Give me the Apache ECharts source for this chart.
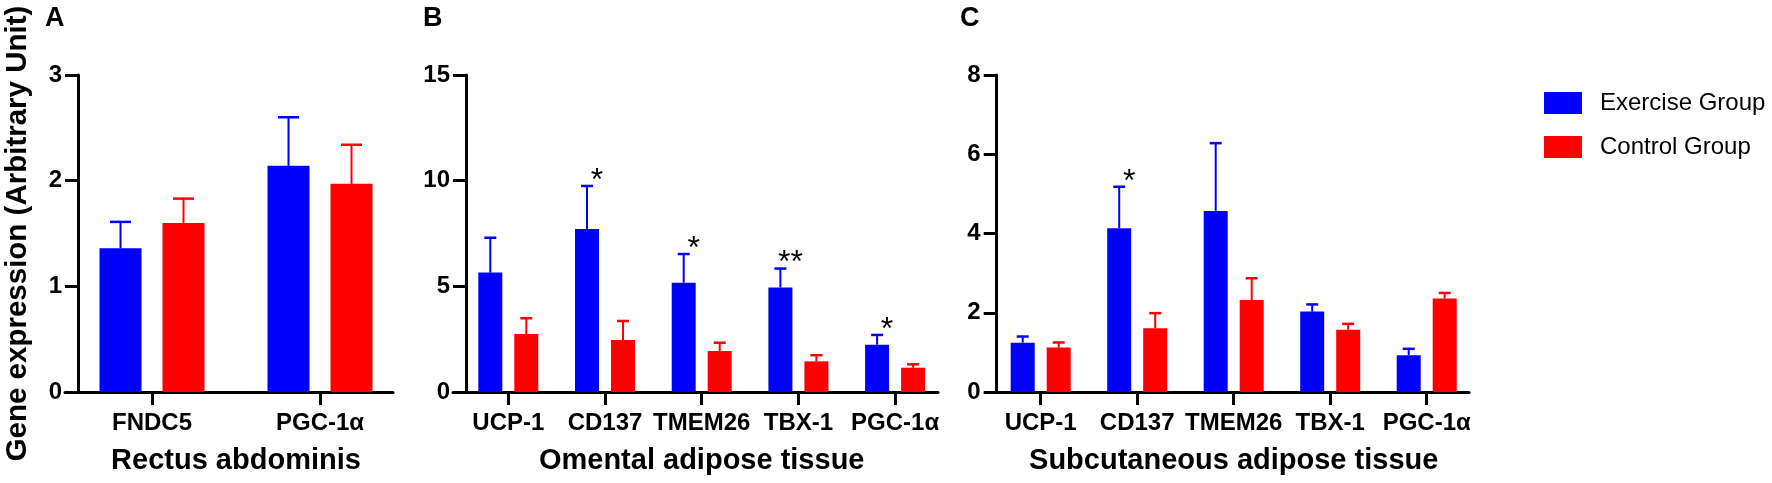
<!DOCTYPE html>
<html>
<head>
<meta charset="utf-8">
<script src="https://cdn.jsdelivr.net/npm/echarts@6/dist/echarts.min.js"></script>
<style>
  html, body { margin: 0; padding: 0; background: #fff; }
  #chart { width: 1772px; height: 483px; }
</style>
</head>
<body>
<div id="chart"></div>
<script>
// panel A - rectus abdominis
var catsA = ['FNDC5', 'PGC-1α'];
var exA = [1.36, 2.14];
var exErrA = [0.25, 0.46];
var ctA = [1.60, 1.97];
var ctErrA = [0.23, 0.37];
var starsA = ['', ''];

// panel B - omental adipose tissue
var catsB = ['UCP-1', 'CD137', 'TMEM26', 'TBX-1', 'PGC-1α'];
var exB = [5.65, 7.71, 5.17, 4.95, 2.24];
var exErrB = [1.65, 2.04, 1.36, 0.89, 0.46];
var ctB = [2.74, 2.46, 1.94, 1.45, 1.15];
var ctErrB = [0.75, 0.90, 0.39, 0.29, 0.16];
var starsB = ['', '*', '*', '**', '*'];

// panel C - subcutaneous adipose tissue
var catsC = ['UCP-1', 'CD137', 'TMEM26', 'TBX-1', 'PGC-1α'];
var exC = [1.245, 4.13, 4.57, 2.03, 0.93];
var exErrC = [0.155, 1.05, 1.71, 0.18, 0.16];
var ctC = [1.12, 1.61, 2.32, 1.57, 2.36];
var ctErrC = [0.13, 0.38, 0.55, 0.15, 0.14];
var starsC = ['', '*', '', '', ''];

var yMax = [3, 15, 8];
var yStep = [1, 5, 2];
var letters = ['A', 'B', 'C'];
var tissues = ['Rectus abdominis', 'Omental adipose tissue', 'Subcutaneous adipose tissue'];

var FONT = '"Liberation Sans", Arial, sans-serif';
var BLUE = '#0000ff', RED = '#ff0000';

// layout of each panel (pixels)
var panels = [
  { cats: catsA, ex: exA, exErr: exErrA, ct: ctA, ctErr: ctErrA, stars: starsA,
    lineStart: 65, lineEnd: 393, yAxisX: 78, firstCenter: 152, spacing: 168, barW: 42, letterX: 45 },
  { cats: catsB, ex: exB, exErr: exErrB, ct: ctB, ctErr: ctErrB, stars: starsB,
    lineStart: 453, lineEnd: 938, yAxisX: 466, firstCenter: 508.3, spacing: 96.7, barW: 24, letterX: 423 },
  { cats: catsC, ex: exC, exErr: exErrC, ct: ctC, ctErr: ctErrC, stars: starsC,
    lineStart: 986, lineEnd: 1469, yAxisX: 996.7, firstCenter: 1040.7, spacing: 96.5, barW: 24, letterX: 960 }
];

var TOP = 75, HEIGHT = 317;

function errorSeries(xi, yi, means, errs, stars, color, shift, cap) {
  return {
    type: 'custom',
    xAxisIndex: xi,
    yAxisIndex: yi,
    z: 5,
    silent: true,
    data: means.map(function (m, i) { return [i, m, m + errs[i]]; }),
    renderItem: function (params, api) {
      var base = api.coord([api.value(0), api.value(1)]);
      var top = api.coord([api.value(0), api.value(2)]);
      var x = base[0] + shift;
      var children = [
        { type: 'line', shape: { x1: x, y1: base[1], x2: x, y2: top[1] }, style: { stroke: color, lineWidth: 2 } },
        { type: 'line', shape: { x1: x - cap / 2, y1: top[1], x2: x + cap / 2, y2: top[1] }, style: { stroke: color, lineWidth: 2.5 } }
      ];
      var s = stars ? stars[params.dataIndex] : '';
      if (s) {
        children.push({
          type: 'text',
          style: { text: s, x: x + 10, y: top[1] - 5, align: 'center', verticalAlign: 'middle',
                   font: '32px ' + FONT, fill: '#000' }
        });
      }
      return { type: 'group', children: children };
    }
  };
}

var grid = [], xAxis = [], yAxis = [], series = [], title = [];

panels.forEach(function (p, k) {
  var n = p.cats.length;
  var bi = 2 * k, fi = 2 * k + 1;
  // grid for bars (category bands placed like the original)
  grid.push({ left: p.firstCenter - p.spacing / 2, width: n * p.spacing, top: TOP, height: HEIGHT,
              containLabel: false, outerBoundsMode: 'none' });
  // grid for the axis frame
  grid.push({ left: p.lineStart, width: p.lineEnd - p.lineStart, top: TOP, height: HEIGHT,
              containLabel: false, outerBoundsMode: 'none' });

  xAxis.push({
    type: 'category', gridIndex: bi, data: p.cats,
    axisLine: { show: false },
    axisTick: { show: true, alignWithLabel: true, length: 13, interval: 0, lineStyle: { color: '#000', width: 3 } },
    axisLabel: { interval: 0, margin: 19, color: '#000', fontSize: 24, fontWeight: 'bold', fontFamily: FONT },
    name: tissues[k], nameLocation: 'middle', nameGap: 54,
    nameTextStyle: { color: '#000', fontSize: 29, fontWeight: 'bold', fontFamily: FONT }
  });
  xAxis.push({
    type: 'value', gridIndex: fi, min: 0, max: 1,
    axisLine: { show: true, onZero: false, lineStyle: { color: '#000', width: 3 } },
    axisTick: { show: false }, axisLabel: { show: false }, splitLine: { show: false }
  });

  yAxis.push({ type: 'value', gridIndex: bi, min: 0, max: yMax[k], interval: yStep[k], show: false });
  yAxis.push({
    type: 'value', gridIndex: fi, min: 0, max: yMax[k], interval: yStep[k],
    offset: -(p.yAxisX - p.lineStart),
    axisLine: { show: true, onZero: false, lineStyle: { color: '#000', width: 3 } },
    axisTick: { show: true, length: 13, lineStyle: { color: '#000', width: 3 } },
    axisLabel: { margin: 16, color: '#000', fontSize: 24, fontWeight: 'bold', fontFamily: FONT },
    splitLine: { show: false },
    name: k === 0 ? 'Gene expression (Arbitrary Unit)' : '',
    nameLocation: 'middle', nameGap: 45,
    nameTextStyle: { color: '#000', fontSize: 29.5, fontWeight: 'bold', fontFamily: FONT }
  });

  series.push({
    name: 'Exercise Group', type: 'bar', xAxisIndex: bi, yAxisIndex: bi,
    data: p.ex, barWidth: p.barW, barGap: '50%', itemStyle: { color: BLUE }
  });
  series.push({
    name: 'Control Group', type: 'bar', xAxisIndex: bi, yAxisIndex: bi,
    data: p.ct, barWidth: p.barW, barGap: '50%', itemStyle: { color: RED }
  });
  var shift = p.barW * 0.75;
  series.push(errorSeries(bi, bi, p.ex, p.exErr, p.stars, BLUE, -shift, p.barW / 2));
  series.push(errorSeries(bi, bi, p.ct, p.ctErr, null, RED, shift, p.barW / 2));

  title.push({
    text: letters[k], left: p.letterX, top: 5, padding: 0,
    textStyle: { color: '#000', fontSize: 27, fontWeight: 'bold', fontFamily: FONT }
  });
});

var chart = echarts.init(document.getElementById('chart'), null, { renderer: 'canvas' });
chart.setOption({
  animation: false,
  backgroundColor: '#fff',
  title: title,
  legend: {
    orient: 'vertical', left: 1539, top: 86,
    itemWidth: 38, itemHeight: 22, itemGap: 20, icon: 'rect',
    textStyle: { color: '#000', fontSize: 24, fontFamily: FONT, padding: [0, 0, 0, 13] },
    data: ['Exercise Group', 'Control Group']
  },
  grid: grid,
  xAxis: xAxis,
  yAxis: yAxis,
  series: series
});
</script>
</body>
</html>
